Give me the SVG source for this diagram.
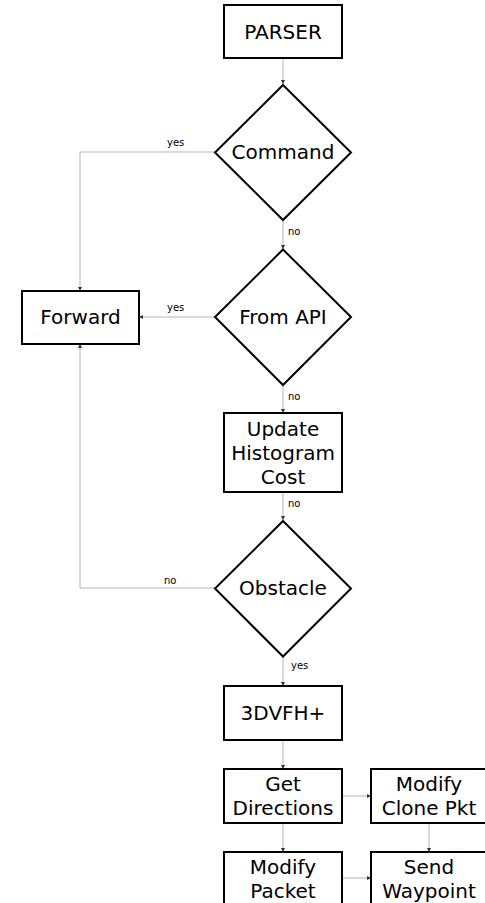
<svg xmlns="http://www.w3.org/2000/svg" width="485" height="903" viewBox="0 0 485 903">
<style>
.box{fill:#fff;stroke:#000;stroke-width:2}
.t{font-family:"DejaVu Sans",sans-serif;font-size:20px;fill:#000;text-anchor:middle}
.lbl{font-family:"DejaVu Sans",sans-serif;font-size:10px;fill:#000}
.c{fill:none;stroke:#b4b4b4;stroke-width:1;marker-end:url(#ah)}
</style>
<defs>
<marker id="ah" viewBox="0 0 6 6" refX="6" refY="3" markerWidth="4" markerHeight="4" markerUnits="userSpaceOnUse" orient="auto">
<path d="M0,0L6,3L0,6z" fill="#333"/>
</marker>
</defs>
<rect width="485" height="903" fill="#fff"/>
<g id="connectors">
<path class="c" d="M283,58V84"/>
<path class="c" d="M283,220V249"/>
<path class="c" d="M283,385V413"/>
<path class="c" d="M283,492V520"/>
<path class="c" d="M283,657V686"/>
<path class="c" d="M283,740V769"/>
<path class="c" d="M283,823V852"/>
<path class="c" d="M215,152H80V291"/>
<path class="c" d="M215,317H139"/>
<path class="c" d="M215,588H80V344"/>
<path class="c" d="M342,796H371"/>
<path class="c" d="M429,823V852"/>
<path class="c" d="M342,878H371"/>
<text class="lbl" x="167" y="146">yes</text>
<text class="lbl" x="288" y="235">no</text>
<text class="lbl" x="167" y="311">yes</text>
<text class="lbl" x="288" y="400">no</text>
<text class="lbl" x="288" y="507">no</text>
<text class="lbl" x="164" y="584">no</text>
<text class="lbl" x="291" y="669">yes</text>
</g>
<g id="parser"><rect class="box" x="224" y="5" width="118" height="53"/><text class="t" x="283" y="39">PARSER</text></g>
<g id="command"><path class="box" d="M283,85L351,152.5L283,220L215,152.5Z"/><text class="t" x="283" y="159">Command</text></g>
<g id="fromapi"><path class="box" d="M283,249.5L351,317L283,385L215,317Z"/><text class="t" x="283" y="324">From API</text></g>
<g id="forward"><rect class="box" x="22" y="291" width="117" height="53"/><text class="t" x="80.5" y="324">Forward</text></g>
<g id="histogram"><rect class="box" x="224" y="413" width="118" height="79"/><text class="t" x="283" y="436">Update</text><text class="t" x="283" y="460">Histogram</text><text class="t" x="283" y="484">Cost</text></g>
<g id="obstacle"><path class="box" d="M283,521L351,588.5L283,656.5L215,588.5Z"/><text class="t" x="283" y="595">Obstacle</text></g>
<g id="vfh"><rect class="box" x="224" y="686" width="118" height="54"/><text class="t" x="283" y="720">3DVFH+</text></g>
<g id="getdir"><rect class="box" x="224" y="769" width="118" height="54"/><text class="t" x="283" y="791">Get</text><text class="t" x="283" y="815">Directions</text></g>
<g id="clone"><rect class="box" x="371" y="769" width="115" height="54"/><text class="t" x="429" y="791">Modify</text><text class="t" x="429" y="815">Clone Pkt</text></g>
<g id="modpkt"><rect class="box" x="224" y="852" width="118" height="60"/><text class="t" x="283" y="874">Modify</text><text class="t" x="283" y="898">Packet</text></g>
<g id="send"><rect class="box" x="371" y="852" width="115" height="60"/><text class="t" x="429" y="874">Send</text><text class="t" x="429" y="898">Waypoint</text></g>
</svg>
